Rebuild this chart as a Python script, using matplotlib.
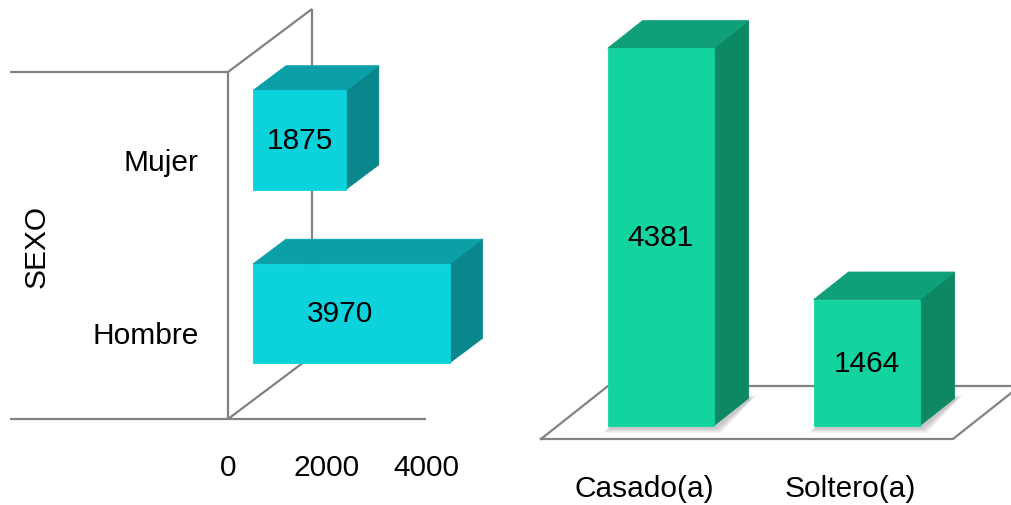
import matplotlib
matplotlib.use("Agg")
import matplotlib.pyplot as plt
from matplotlib.patches import Polygon

# ---- data -------------------------------------------------------------
sexo_labels = ["Hombre", "Mujer"]
sexo_values = [3970, 1875]
sexo_ticks = [0, 2000, 4000]

estado_labels = ["Casado(a)", "Soltero(a)"]
estado_values = [4381, 1464]

# ---- style --------------------------------------------------------------
plt.rcParams["font.family"] = ["Liberation Sans", "DejaVu Sans"]
FS = 21.5
LINE = "#828282"
CYAN = dict(front="#0CD2DC", top="#0B9FA7", side="#09878D")
GREEN = dict(front="#13D39F", top="#0FA078", side="#0D8864")

W, H, DPI = 1011, 506, 100
fig = plt.figure(figsize=(W / DPI, H / DPI), dpi=DPI)
fig.patch.set_facecolor("white")


def px_rect(left, top, right, bottom):
    return [left / W, 1 - bottom / H, (right - left) / W, (bottom - top) / H]


def depth_vec(ax, dx_px, dy_px):
    """Screen offset (pixels, up = positive) expressed in data units."""
    inv = ax.transData.inverted()
    p0 = inv.transform((0, 0))
    p1 = inv.transform((dx_px, dy_px))
    return p1 - p0


def add_faces(ax, x0, x1, y0, y1, d, f0, f1, colors, z):
    """Top and right-hand faces of a box whose front face is drawn separately."""
    ax0, ay0 = f0 * d[0], f0 * d[1]
    bx0, by0 = f1 * d[0], f1 * d[1]
    top = [(x0 + ax0, y1 + ay0), (x1 + ax0, y1 + ay0),
           (x1 + bx0, y1 + by0), (x0 + bx0, y1 + by0)]
    side = [(x1 + ax0, y0 + ay0), (x1 + ax0, y1 + ay0),
            (x1 + bx0, y1 + by0), (x1 + bx0, y0 + by0)]
    for pts, c in ((side, colors["side"]), (top, colors["top"])):
        ax.add_patch(Polygon(pts, closed=True, facecolor=c, edgecolor=c,
                             linewidth=0.6, zorder=z, clip_on=False))


def add_shadow(ax, x0, x1, d, f0, f1, z):
    """Soft shadow of a column's footprint on the floor."""
    for k in range(1, 6):
        ex, ey = depth_vec(ax, k * 1.2, k * 1.0)
        sx, sy = depth_vec(ax, 1.5, -2.0)
        pts = [(x0 + f0 * d[0] - ex + sx, f0 * d[1] - ey + sy),
               (x1 + f0 * d[0] + ex + sx, f0 * d[1] - ey + sy),
               (x1 + f1 * d[0] + ex + sx, f1 * d[1] + ey + sy),
               (x0 + f1 * d[0] - ex + sx, f1 * d[1] + ey + sy)]
        ax.add_patch(Polygon(pts, closed=True, facecolor="#505050",
                             edgecolor="none", alpha=0.07, zorder=z,
                             clip_on=False))


def clean(ax):
    for s in ax.spines.values():
        s.set_visible(False)
    ax.set_facecolor("none")
    ax.tick_params(length=0, labelsize=FS, colors="black")


# ---- left: SEXO (horizontal 3-D bars) ---------------------------------
ax1 = fig.add_axes(px_rect(228, 73, 426, 420))
ax1.set_xlim(0, 4000)
ax1.set_ylim(0, len(sexo_labels))
clean(ax1)

d1 = depth_vec(ax1, 84, 63)
ytop = len(sexo_labels)
wall = dict(color=LINE, lw=1.6, clip_on=False, zorder=1, solid_capstyle="butt")
ax1.plot([0, 0], [0, ytop], **wall)
ax1.plot([0, d1[0]], [ytop, ytop + d1[1]], **wall)
ax1.plot([0, d1[0]], [0, d1[1]], **wall)
ax1.plot([d1[0], d1[0]], [d1[1], ytop + d1[1]], **wall)
ax1.plot([-1.101, 0], [ytop, ytop], transform=ax1.get_yaxis_transform(), **wall)
ax1.plot([-1.101, 1.0], [0, 0], transform=ax1.get_yaxis_transform(), **wall)

ypos = [i + 0.5 for i in range(len(sexo_labels))]
bh, f0, f1 = 0.571, 0.298, 0.69
for y, v in zip(ypos, sexo_values):
    add_faces(ax1, 0, v, y - bh / 2, y + bh / 2, d1, f0, f1, CYAN, 3)
bars1 = ax1.barh([y + f0 * d1[1] for y in ypos], sexo_values, height=bh,
                 left=f0 * d1[0], color=CYAN["front"], edgecolor=CYAN["front"],
                 linewidth=0.6, zorder=4, clip_on=False)
ax1.bar_label(bars1, labels=[f"{v}" for v in sexo_values], label_type="center",
              fontsize=FS, color="black", zorder=5)

ax1.set_xticks(sexo_ticks, [str(t) for t in sexo_ticks])
ax1.set_yticks(ypos, sexo_labels)
ax1.tick_params(axis="x", pad=24.5)
ax1.tick_params(axis="y", pad=21)
ax1.text(-0.965, 0.5, "SEXO", transform=ax1.transAxes, rotation=90,
         ha="center", va="center", fontsize=FS, color="black")

# ---- right: estado civil (vertical 3-D bars) --------------------------
ax2 = fig.add_axes(px_rect(541, 10, 953, 440))
ax2.set_xlim(0, len(estado_labels))
ax2.set_ylim(0, 4990)
clean(ax2)

d2 = depth_vec(ax2, 67, 53)
xr = len(estado_labels)
floor = dict(color=LINE, lw=1.6, clip_on=False, zorder=1)
ax2.plot([0, xr, xr + d2[0], d2[0], 0], [0, 0, d2[1], d2[1], 0], **floor)

xpos = [i + 0.5 for i in range(len(estado_labels))]
bw, g0, g1 = 0.515, 0.25, 0.77
for x, v in zip(xpos, estado_values):
    add_shadow(ax2, x - bw / 2, x + bw / 2, d2, g0, g1, 2)
    add_faces(ax2, x - bw / 2, x + bw / 2, 0, v, d2, g0, g1, GREEN, 3)
bars2 = ax2.bar([x + g0 * d2[0] for x in xpos], estado_values, width=bw,
                bottom=g0 * d2[1], color=GREEN["front"], edgecolor=GREEN["front"],
                linewidth=0.6, zorder=4, clip_on=False)
ax2.bar_label(bars2, labels=[f"{v}" for v in estado_values], label_type="center",
              fontsize=FS, color="black", zorder=5)

ax2.set_xticks(xpos, estado_labels)
ax2.set_yticks([])
ax2.tick_params(axis="x", pad=25)

fig.savefig("out.png", dpi=DPI, facecolor="white")
